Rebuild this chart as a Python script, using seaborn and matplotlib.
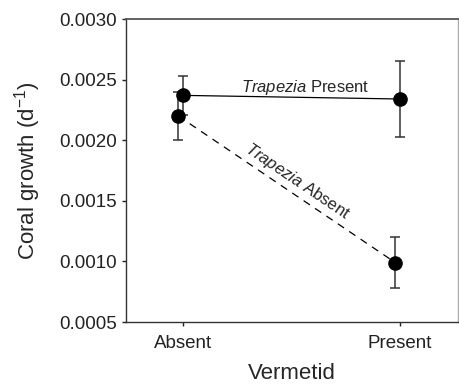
import numpy as np
import pandas as pd
import matplotlib
matplotlib.use("Agg")
import matplotlib.pyplot as plt
import seaborn as sns

# data
vermetid = ["Absent", "Present"]
trap_present_mean = [0.00237, 0.00234]
trap_present_err = [0.00016, 0.00031]
trap_absent_mean = [0.00220, 0.00099]
trap_absent_err = [0.00020, 0.00021]

sns.set_style("ticks")
plt.rcParams['font.family'] = ['Liberation Sans', 'DejaVu Sans']
plt.rcParams['mathtext.fontset'] = 'custom'
plt.rcParams['mathtext.rm'] = 'Liberation Sans'
plt.rcParams['mathtext.it'] = 'Liberation Sans:italic'

fig = plt.figure(figsize=(4.59, 3.85), dpi=100)
ax = fig.add_axes([0.2745, 0.1636, 0.7235, 0.787])

pos = np.arange(len(vermetid))
df = pd.DataFrame({
    "x": np.concatenate([pos, pos - 0.022]),
    "y": trap_present_mean + trap_absent_mean,
    "err": trap_present_err + trap_absent_err,
    "group": ["Trapezia Present"] * 2 + ["Trapezia Absent"] * 2,
})

sns.lineplot(data=df, x="x", y="y", style="group",
             dashes={"Trapezia Present": "", "Trapezia Absent": (6, 5)},
             color="black", linewidth=0.9, legend=False, ax=ax)
for _, g in df.groupby("group"):
    ax.errorbar(g["x"], g["y"], yerr=g["err"], fmt="o", color="black",
                ecolor="#333333", elinewidth=1.1, capsize=3.6, capthick=1.1,
                markersize=9.5, zorder=3)

ax.set_xlim(-0.263, 1.267)
ax.set_ylim(0.0005, 0.0030)
ax.set_xticks(pos)
ax.set_xticklabels(vermetid)
yt = np.arange(0.0005, 0.00301, 0.0005)
ax.set_yticks(yt)
ax.set_yticklabels([f"{v:.4f}" for v in yt])
ax.tick_params(labelsize=13.5, length=3, width=1, colors="#222222")
ax.tick_params(axis="x", pad=6)
ax.set_xlabel("Vermetid", fontsize=16, labelpad=8)
ax.set_ylabel("Coral growth (d$^{\\mathrm{-1}}$)", fontsize=16, labelpad=12)

for side in ["left", "bottom"]:
    ax.spines[side].set_color("#333333")
    ax.spines[side].set_linewidth(1.0)
ax.spines["top"].set_color("#555555")
ax.spines["top"].set_linewidth(1.3)
ax.spines["right"].set_color("#aaaaaa")
ax.spines["right"].set_linewidth(1.0)

ax.text(0.565, 0.00240, "$\\it{Trapezia}$ Present", fontsize=12, ha="center", va="baseline")
ax.text(0.525, 0.00166, "$\\it{Trapezia}$ Absent", fontsize=12, ha="center", va="center",
        rotation=-34, rotation_mode="anchor")

fig.savefig("out.png", dpi=100)
